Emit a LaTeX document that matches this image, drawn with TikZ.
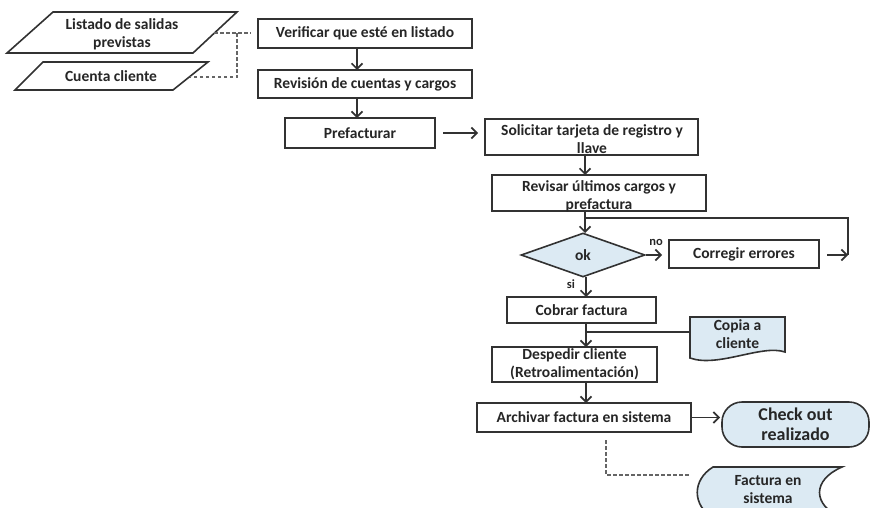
\documentclass[tikz,border=0pt]{standalone}
\usepackage{fontspec}
\setmainfont{Carlito}
\usetikzlibrary{arrows.meta,shapes.geometric,calc}
\definecolor{ink}{RGB}{50,50,50}
\definecolor{paleblue}{RGB}{220,234,243}
\tikzset{
  base/.style={font=\bfseries\fontsize{15.5}{18}\selectfont, text=black!85},
  procbox/.style={base, draw=ink, line width=1.6pt, fill=white, align=center, inner sep=1pt},
  flow/.style={draw=ink, line width=1.7pt},
  arr/.style={flow, -{Straight Barb[length=5.5pt,width=11pt,line width=1.7pt]}},
  link/.style={draw=ink!75, line width=1.4pt, dash pattern=on 3.5pt off 2.5pt},
  lbl/.style={base, inner sep=0pt},
  shapeline/.style={draw=ink, line width=1.6pt},
}
\begin{document}
\begin{tikzpicture}[x=1pt,y=-1pt]
\useasboundingbox (0,0) rectangle (872,507);
\begin{scope}
\clip (0,0) rectangle (872,507);

% input documents (parallelograms)
\filldraw[shapeline, fill=white] (53,12) -- (237,12) -- (193,53) -- (7,53) -- cycle;
\node[lbl, align=center] (listado) at (122,34) {Listado de salidas\\previstas};
\filldraw[shapeline, fill=white] (43,62) -- (208,62) -- (173,90) -- (15,90) -- cycle;
\node[lbl] (cuenta) at (111,76) {Cuenta cliente};

% process boxes
\node[procbox, minimum width=214pt, minimum height=29pt] (verif) at (365,33.5) {Verificar que esté en listado};
\node[procbox, minimum width=214pt, minimum height=28pt] (revision) at (365,84) {Revisión de cuentas y cargos};
\node[procbox, minimum width=150pt, minimum height=30pt] (prefact) at (360,133) {Prefacturar};
\node[procbox, minimum width=213pt, minimum height=36pt] (solicitar) at (591.5,137) {};
\node[lbl, align=center] (solicitartxt) at (592,139.5) {Solicitar tarjeta de registro y\\llave};
\node[procbox, minimum width=214pt, minimum height=36pt] (revisar) at (599,193) {};
\node[lbl, align=center] (revisartxt) at (599,196) {Revisar últimos cargos y\\prefactura};
\node[base, diamond, draw=ink, line width=1.6pt, fill=paleblue, minimum width=124pt, minimum height=44pt, inner sep=0pt] (ok) at (583,255) {ok};
\node[procbox, minimum width=150pt, minimum height=28pt] (corregir) at (744,254) {Corregir errores};
\node[procbox, minimum width=149pt, minimum height=26pt] (cobrar) at (581.5,310) {Cobrar factura};
\node[procbox, minimum width=165pt, minimum height=35pt] (despedir) at (574.5,364.5) {Despedir cliente\\(Retroalimentación)};
\node[procbox, minimum width=214pt, minimum height=29pt] (archivar) at (584,417.5) {Archivar factura en sistema};

% output document
\filldraw[shapeline, fill=paleblue] (690,317) -- (785,317) -- (785,352)
  .. controls (762,344) and (718,368) .. (690,358) -- cycle;
\node[lbl, align=center] (copia) at (737.5,334) {Copia a\\cliente};

% terminator
\node[base, draw=ink, line width=1.6pt, fill=paleblue, rounded corners=20pt, minimum width=147pt, minimum height=45pt, align=center, inner sep=0pt, font=\bfseries\fontsize{18}{20}\selectfont] (check) at (795.5,424.5) {Check out\\realizado};

% stored data
\filldraw[shapeline, fill=paleblue] (713,467) -- (842,467)
  .. controls (812,480) and (812,505) .. (842,518) -- (713,518)
  .. controls (692,505) and (692,480) .. (713,467) -- cycle;
\node[lbl, align=center] (factura) at (768,490) {Factura en\\sistema};

% dashed data links
\coordinate (j1) at (237,33);
\draw[link] (214,33) -- (251,33);
\draw[link] (j1) -- (237,77) -- (190,77);
\coordinate (j2) at (606,440);
\draw[link] (j2) -- (606,475) -- (690,475);

% main flow
\draw[arr] (357,48) -- (357,70);
\draw[arr] (357,98) -- (357,118);
\draw[arr] (443,133) -- (478,133);
\draw[arr] (585,155) -- (585,175);
\draw[arr] (585,211) -- (585,233);
\coordinate (loopstart) at (585,218);
\coordinate (loopend) at (848,255);
\draw[flow] (loopstart) -| (loopend);
\draw[arr] (ok.east) -- (662,255);
\node[lbl, font=\bfseries\fontsize{12.5}{14}\selectfont] at (656,242) {no};
\draw[arr] (827,255) -- (loopend);
\draw[arr] (586,277) -- (586,297);
\node[lbl, font=\bfseries\fontsize{12.5}{14}\selectfont] at (571,284) {si};
\draw[arr] (586,323) -- (586,347);
\draw[flow] (586,332) -- (690,332);
\draw[arr] (586,382) -- (586,403);
\draw[arr] (archivar.east) -- (720,417.5);
\end{scope}
\end{tikzpicture}
\end{document}
